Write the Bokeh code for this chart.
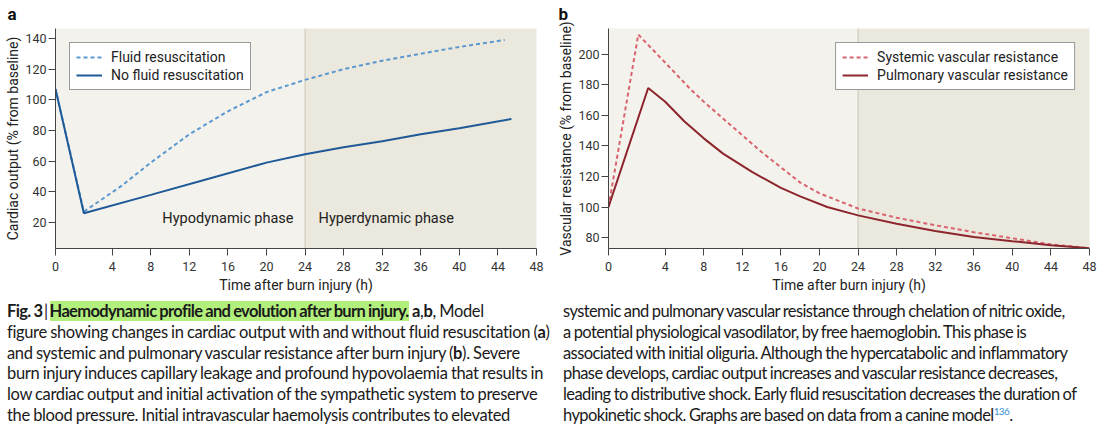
from bokeh.plotting import figure
from bokeh.models import (Range1d, FixedTicker, CustomJSTickFormatter, CustomJSTransform,
                          BoxAnnotation, Span, Label, Div, ColumnDataSource)
from bokeh.transform import transform
from bokeh.layouts import column, row
from bokeh.embed import file_html
from bokeh.resources import INLINE

# ---------------- data ----------------
fluid_hours = [0, 2, 5, 8, 12, 16, 20, 24, 28, 32, 36, 40, 44.7]
fluid_pct = [107, 27, 44, 59, 77.5, 92.5, 105, 113, 120, 125.5, 130, 134.5, 139]

nofluid_hours = [0, 2, 8, 14, 20, 24, 28, 32, 36, 40, 45.4]
nofluid_pct = [107, 26, 38, 48.5, 59, 64.5, 69, 73, 77.5, 81.5, 87.5]

svr_hours = [0, 2.1, 4.7, 6.5, 8, 10, 12, 14, 16, 18, 20, 24, 28, 32, 36, 40, 44, 48]
svr_pct = [100, 213, 190, 178, 169, 158, 147, 136, 126, 116, 109, 99, 93, 88, 83.5, 79.5, 75.5, 73]

pvr_hours = [0, 2.8, 4, 6, 8, 10, 13, 16, 18, 20.8, 24, 28, 32, 36, 40, 44, 48]
pvr_pct = [100, 178, 169, 156, 145, 135, 123, 112.5, 107, 100, 94.5, 89, 84.3, 80.4, 77.6, 75, 73]

hour_ticks = [0, 4, 8, 12, 16, 20, 24, 28, 32, 36, 40, 44, 48]
co_ticks = [20, 40, 60, 80, 100, 120, 140]
vr_ticks = [80, 100, 120, 140, 160, 180, 200]
phase_split = 24
hour_end = 48

# the first 4 h of the time axis are drawn wider than the rest
K = 1.47


def warp(t):
    return t * K if t < 4 else 4 * K + (t - 4)


warp_js = CustomJSTransform(
    args=dict(k=K),
    func="return x < 4 ? x*k : 4*k + (x - 4);",
    v_func="const out = new Array(xs.length); for (let i = 0; i < xs.length; i++) { const x = xs[i]; out[i] = x < 4 ? x*k : 4*k + (x - 4); } return out;",
)

FONT = "Roboto"
TXT = "#222222"
AX = "#444444"
FRAME_H = 221
FIG_H = 298


def make_panel(letter, width, bl, br, title_off, ylabel, yr, yticks):
    p = figure(width=width, height=FIG_H, x_range=Range1d(0, warp(hour_end)),
               y_range=Range1d(*yr), output_backend="svg", toolbar_location=None,
               min_border_left=bl, min_border_right=br,
               min_border_bottom=FIG_H - 27 - FRAME_H, min_border_top=27, title=letter)
    p.title.text_font = FONT
    p.title.text_font_size = "17px"
    p.title.text_font_style = "bold"
    p.title.text_color = "#111111"
    p.title.text_line_height = 0.8
    p.title.align = "left"
    p.title.vertical_align = "top"
    p.title.offset = title_off
    p.title.standoff = 6
    p.grid.visible = False
    p.outline_line_color = None
    p.background_fill_color = "#f4f2ec"
    p.border_fill_color = "white"

    p.add_layout(BoxAnnotation(left=warp(phase_split), right=warp(hour_end),
                               fill_color="#ebe8dd", fill_alpha=1, line_color=None,
                               level="underlay"))
    p.add_layout(Span(location=warp(phase_split), dimension="height",
                      line_color="#c9c4b4", line_width=1, level="underlay"))

    p.xaxis.ticker = FixedTicker(ticks=[warp(t) for t in hour_ticks], minor_ticks=[])
    p.xaxis.formatter = CustomJSTickFormatter(
        args=dict(k=K),
        code="const t = tick < 4*k - 1e-9 ? tick/k : tick - 4*k + 4; return String(Math.round(t));")
    p.yaxis.ticker = FixedTicker(ticks=yticks, minor_ticks=[])
    p.xaxis.axis_label = "Time after burn injury (h)"
    p.yaxis.axis_label = ylabel
    for ax in (p.xaxis, p.yaxis):
        ax.axis_line_color = AX
        ax.axis_line_width = 1
        ax.major_tick_line_color = AX
        ax.major_tick_out = 7
        ax.major_tick_in = 0
        ax.minor_tick_line_color = None
        ax.major_label_text_font = FONT
        ax.major_label_text_font_size = "12.5px"
        ax.major_label_text_color = "#333333"
        ax.axis_label_text_font = FONT
        ax.axis_label_text_font_size = "14px"
        ax.axis_label_text_font_style = "normal"
        ax.axis_label_text_color = TXT
    p.xaxis.axis_label_standoff = 3
    p.xaxis.major_label_standoff = 6
    p.yaxis.axis_label_standoff = 1
    p.yaxis.major_label_standoff = 2
    return p


def style_legend(p, loc):
    lg = p.legend[0]
    lg.location = loc
    lg.margin = 14
    lg.border_line_color = "#333333"
    lg.border_line_width = 1
    lg.background_fill_color = "white"
    lg.background_fill_alpha = 1
    lg.label_text_font = FONT
    lg.label_text_font_size = "14px"
    lg.label_text_color = TXT
    lg.glyph_width = 26
    lg.glyph_height = 16
    lg.label_height = 16
    lg.spacing = 2
    lg.padding = 6
    lg.label_standoff = 9


# ---------------- panel a ----------------
pa = make_panel("a", 550, 55, 14, -48, "Cardiac output (% from baseline)", (3, 146.5), co_ticks)
src_fluid = ColumnDataSource(dict(t=fluid_hours, v=fluid_pct))
src_nofluid = ColumnDataSource(dict(t=nofluid_hours, v=nofluid_pct))
pa.line(x=transform("t", warp_js), y="v", source=src_fluid, line_color="#5a98cf",
        line_width=2, line_dash="4 3", legend_label="Fluid resuscitation")
pa.line(x=transform("t", warp_js), y="v", source=src_nofluid, line_color="#1f5a98",
        line_width=2, legend_label="No fluid resuscitation")
style_legend(pa, "top_left")
for txt, h in (("Hypodynamic phase", 9.2), ("Hyperdynamic phase", 25.4)):
    pa.add_layout(Label(x=warp(h), y=22.6, text=txt, text_font=FONT, text_font_size="14.5px",
                        text_color=TXT, text_baseline="middle", text_align="left"))

# ---------------- panel b ----------------
pb = make_panel("b", 550, 58, 11, -50, "Vascular resistance (% from baseline)", (72.8, 217), vr_ticks)
src_svr = ColumnDataSource(dict(t=svr_hours, v=svr_pct))
src_pvr = ColumnDataSource(dict(t=pvr_hours, v=pvr_pct))
pb.line(x=transform("t", warp_js), y="v", source=src_svr, line_color="#d9646e",
        line_width=2, line_dash="4 3", legend_label="Systemic vascular resistance")
pb.line(x=transform("t", warp_js), y="v", source=src_pvr, line_color="#8c262c",
        line_width=2, legend_label="Pulmonary vascular resistance")
style_legend(pb, "top_right")

# ---------------- caption ----------------
CAP = ("position:relative;top:3px;font-family:Lato,'Noto Sans',sans-serif;font-size:16.5px;line-height:20.8px;"
       "word-spacing:-0.5px;white-space:nowrap;color:#1a1a1a;overflow:visible;")
col1 = [
    "<b style='letter-spacing:-0.65px'>Fig. 3</b>&thinsp;|&thinsp;<b style='letter-spacing:-0.65px'><span style='background:#b3ef7d'>Haemodynamic profile and evolution after burn injury.</span></b> <b>a</b>,<b>b</b>, Model",
    "figure showing changes in cardiac output with and without fluid resuscitation (<b>a</b>)",
    "and systemic and pulmonary vascular resistance after burn injury (<b>b</b>). Severe",
    "burn injury induces capillary leakage and profound hypovolaemia that results in",
    "low cardiac output and initial activation of the sympathetic system to preserve",
    "the blood pressure. Initial intravascular haemolysis contributes to elevated",
]
col2 = [
    "systemic and pulmonary vascular resistance through chelation of nitric oxide,",
    "a potential physiological vasodilator, by free haemoglobin. This phase is",
    "associated with initial oliguria. Although the hypercatabolic and inflammatory",
    "phase develops, cardiac output increases and vascular resistance decreases,",
    "leading to distributive shock. Early fluid resuscitation decreases the duration of",
    "hypokinetic shock. Graphs are based on data from a canine model<span style='position:relative;top:-6px;color:#3a8fd0;font-size:10px;line-height:0'>136</span>.",
]
div1 = Div(text=f"<div style=\"{CAP}width:520px;padding-left:7px;letter-spacing:-0.35px;\">" + "<br>".join(col1) + "</div>",
           width=550, height=120, margin=(0, 0, 0, 0), styles={"overflow": "visible"})
div2 = Div(text=f"<div style=\"{CAP}width:500px;padding-left:13px;letter-spacing:-0.6px;\">" + "<br>".join(col2) + "</div>",
           width=550, height=120, margin=(0, 0, 0, 0), styles={"overflow": "visible"})

layout = column(row(pa, pb), row(div1, div2))
open("out.html", "w").write(file_html(layout, INLINE))
